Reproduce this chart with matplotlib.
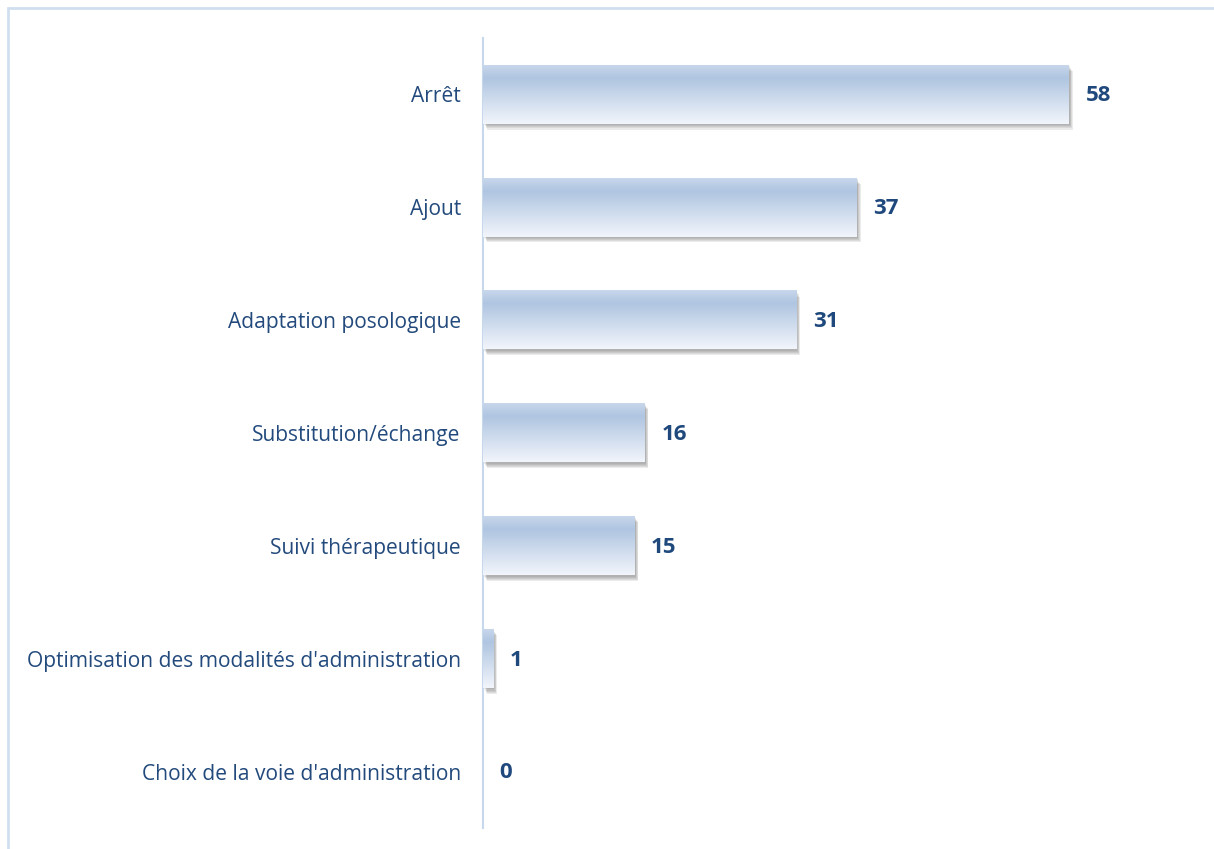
import numpy as np
import matplotlib
matplotlib.use("Agg")
import matplotlib.pyplot as plt
import matplotlib.patheffects as pe
from matplotlib.colors import LinearSegmentedColormap
from matplotlib.patches import Rectangle

# Data
categories = ["Arrêt", "Ajout", "Adaptation posologique", "Substitution/échange",
              "Suivi thérapeutique", "Optimisation des modalités d'administration",
              "Choix de la voie d'administration"]
values = [58, 37, 31, 16, 15, 1, 0]

plt.rcParams['font.family'] = ['Open Sans', 'DejaVu Sans']

fig = plt.figure(figsize=(12.14, 8.49), dpi=100)
W, H = 1214, 849

# outer light-blue frame (cropped on right and bottom)
fig.add_artist(Rectangle((8 / W, -0.1), 1.2, (849 - 8) / H + 0.1, transform=fig.transFigure,
                         fill=False, edgecolor='#d0dff0', linewidth=2))

ax = fig.add_axes([483 / W, (849 - 828) / H, (1200 - 483) / W, (828 - 38) / H])
y = np.arange(len(categories))

# soft blurred shadow built from a few faint offset layers
shadow = [pe.SimplePatchShadow(offset=(dx, dy), shadow_rgbFace='#606060', alpha=0.12)
          for dx, dy in [(0.8, -1.0), (1.3, -1.8), (1.8, -2.6), (2.3, -3.4), (2.8, -4.2)]]
bars = ax.barh(y, values, height=0.52, color='#c0d2e8', edgecolor='none',
               path_effects=shadow + [pe.Normal()])

cmap = LinearSegmentedColormap.from_list('bar', [(0, '#c8d7eb'), (0.22, '#afc5e1'), (1, '#f2f5fb')])
grad = np.linspace(0, 1, 256).reshape(-1, 1)
for b, v in zip(bars, values):
    if v <= 0:
        continue
    x0, y0 = b.get_x(), b.get_y()
    w, h = b.get_width(), b.get_height()
    ax.imshow(grad, cmap=cmap, aspect='auto', extent=(x0, x0 + w, y0 + h, y0),
              interpolation='bilinear', zorder=3)

for yi, v in zip(y, values):
    ax.annotate(str(v), (v, yi), xytext=(12, -1), textcoords='offset points',
                ha='left', va='center', fontsize=16, fontweight='bold', color='#1f497d')

ax.set_yticks(y)
ax.set_yticklabels(categories, fontsize=15.1, color='#234a7c')
ax.tick_params(axis='y', length=0, pad=16)
ax.set_xticks([])
for s in ['top', 'right', 'bottom']:
    ax.spines[s].set_visible(False)
ax.spines['left'].set_color('#c8d8ec')
ax.spines['left'].set_linewidth(1.5)
ax.set_xlim(0, 71)
ax.set_ylim(len(categories) - 0.5, -0.5)

fig.savefig("out.png", dpi=100, facecolor='white')
